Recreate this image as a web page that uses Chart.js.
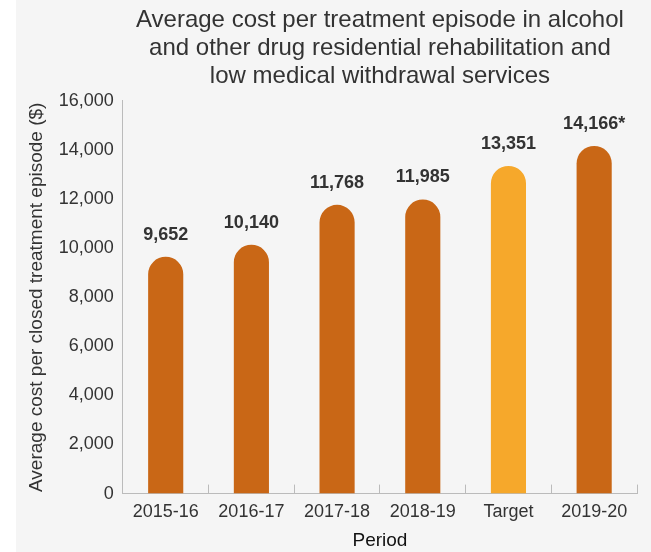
<!DOCTYPE html>
<html>
<head>
<meta charset="utf-8">
<script src="https://cdn.jsdelivr.net/npm/chart.js@4.4.0/dist/chart.umd.min.js"></script>
<style>
  html, body { margin: 0; padding: 0; background: #ffffff; }
  #wrap { margin-left: 16px; width: 635px; height: 552px; background: #f5f5f5; }
</style>
</head>
<body>
<div id="wrap"><canvas id="costChart"></canvas></div>
<script>
// chart data
const periods = ['2015-16', '2016-17', '2017-18', '2018-19', 'Target', '2019-20'];
const avgCost = [9652, 10140, 11768, 11985, 13351, 14166];
const valueLabels = ['9,652', '10,140', '11,768', '11,985', '13,351', '14,166*'];
const yTicks = [0, 2000, 4000, 6000, 8000, 10000, 12000, 14000, 16000];

const darkOrange = '#c96716';
const lightOrange = '#f6a82b';
const textColour = '#333333';

// Draws the bold value above each bar
const barValues = {
    id: 'barValues',
    afterDatasetsDraw(chart) {
        const ctx = chart.ctx;
        const meta = chart.getDatasetMeta(0);
        ctx.save();
        ctx.font = 'bold 18px "Liberation Sans", Arial, sans-serif';
        ctx.fillStyle = textColour;
        ctx.textAlign = 'center';
        ctx.textBaseline = 'alphabetic';
        meta.data.forEach((bar, i) => {
            ctx.fillText(valueLabels[i], bar.x, bar.y - 17);
        });
        ctx.restore();
    }
};

Chart.defaults.font.family = '"Liberation Sans", Arial, sans-serif';
Chart.defaults.color = textColour;

const ctx = document.getElementById('costChart').getContext('2d');
const chart = new Chart(ctx, {
    type: 'bar',
    data: {
        labels: periods,
        datasets: [{
            data: avgCost,
            backgroundColor: periods.map(p => p === 'Target' ? lightOrange : darkOrange),
            borderRadius: 100,
            borderSkipped: 'bottom',
            barPercentage: 0.41,
            categoryPercentage: 1.0
        }]
    },
    options: {
        responsive: true,
        maintainAspectRatio: false,
        animation: false,
        layout: { padding: { top: 6, right: 14, left: 2, bottom: 0 } },
        plugins: {
            legend: { display: false },
            tooltip: { enabled: false },
            title: {
                display: true,
                fullSize: false,
                text: ['Average cost per treatment episode in alcohol',
                       'and other drug residential rehabilitation and',
                       'low medical withdrawal services'],
                color: textColour,
                font: { size: 24, weight: 'normal', lineHeight: 1.18 },
                padding: { top: 0, bottom: 10 }
            }
        },
        scales: {
            y: {
                min: 0,
                max: 16000,
                afterBuildTicks: axis => { axis.ticks = yTicks.map(v => ({ value: v })); },
                ticks: {
                    font: { size: 18 },
                    color: textColour,
                    padding: 9,
                    callback: v => v.toLocaleString('en-US')
                },
                grid: { display: false, drawTicks: false },
                border: { display: true, color: '#bbbbbb' },
                title: {
                    display: true,
                    text: 'Average cost per closed treatment episode ($)',
                    font: { size: 19 },
                    color: textColour,
                    padding: { top: 7, bottom: 2 }
                }
            },
            x: {
                ticks: { font: { size: 18 }, color: textColour, padding: 17 },
                grid: {
                    display: true,
                    drawOnChartArea: false,
                    drawTicks: true,
                    tickLength: -9,
                    color: '#bbbbbb',
                    offset: true
                },
                border: { display: true, color: '#bbbbbb' },
                title: {
                    display: true,
                    text: 'Period',
                    font: { size: 19 },
                    color: '#111111',
                    padding: { top: -11, bottom: 0 }
                }
            }
        }
    },
    plugins: [barValues]
});
</script>
</body>
</html>
